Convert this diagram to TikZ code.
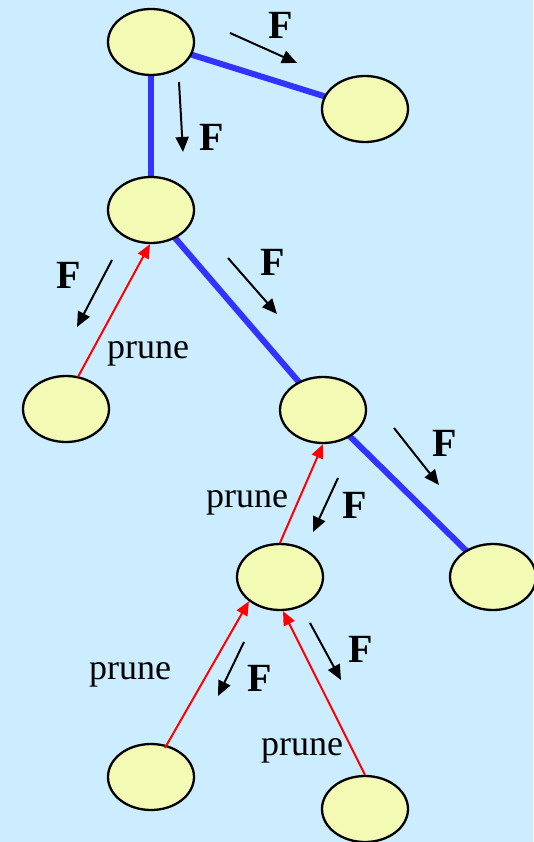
\documentclass[tikz,border=0pt]{standalone}
\usepackage{fontspec}
\setmainfont{Liberation Serif}
\usetikzlibrary{shapes.geometric,arrows.meta}
\definecolor{bgblue}{RGB}{204,236,255}
\definecolor{nodefill}{RGB}{242,250,180}
\definecolor{edgeblue}{RGB}{51,51,255}
\tikzset{
  tnode/.style={ellipse,draw=black,line width=2.3pt,fill=nodefill,minimum width=86pt,minimum height=66pt,inner sep=0pt},
  treeedge/.style={draw=edgeblue,line width=6pt},
  prunearrow/.style={draw=red,line width=2pt,-{Triangle[length=14pt,width=12pt]}},
  farrow/.style={draw=black,line width=2pt,-{Triangle[length=15pt,width=13pt]}},
  flabel/.style={font=\fontsize{40}{40}\selectfont\bfseries,inner sep=0pt},
  plabel/.style={font=\fontsize{36}{36}\selectfont,inner sep=0pt,anchor=base}
}
\begin{document}
\begin{tikzpicture}[x=1pt,y=-1pt]
\fill[bgblue] (0,0) rectangle (533,842);
\useasboundingbox (0,0) rectangle (533,842);
% tree edges
\coordinate (pA) at (151,42);
\coordinate (pB) at (365,109);
\coordinate (pC) at (151,210);
\coordinate (pE) at (323,410);
\coordinate (pG) at (493,577);
\draw[treeedge] (pA) -- (pB);
\draw[treeedge] (pA) -- (pC);
\draw[treeedge] (pC) -- (pE);
\draw[treeedge] (pE) -- (pG);
% nodes
\node[tnode] (A) at (pA) {};
\node[tnode] (B) at (pB) {};
\node[tnode] (C) at (pC) {};
\node[tnode] (D) at (66,409) {};
\node[tnode] (E) at (pE) {};
\node[tnode] (F) at (280,577) {};
\node[tnode] (G) at (pG) {};
\node[tnode] (H) at (151,777) {};
\node[tnode] (I) at (365,809) {};
% prune arrows
\draw[prunearrow] ([xshift=12pt,yshift=-2pt]D.north) -- ([xshift=-1pt]C.south);
\draw[prunearrow] (F.north) -- (E.south);
\draw[prunearrow] ([xshift=14pt,yshift=-5pt]H.north) -- (F.-142);
\draw[prunearrow] (I.north) -- ([xshift=3pt]F.south);
% F arrows
\coordinate (f1s) at (230,33);  \coordinate (f1e) at (297,63);
\coordinate (f2s) at (179,82);  \coordinate (f2e) at (183,152);
\coordinate (f3s) at (112,260); \coordinate (f3e) at (77,327);
\coordinate (f4s) at (228,258); \coordinate (f4e) at (277,314);
\coordinate (f5s) at (394,428); \coordinate (f5e) at (439,485);
\coordinate (f6s) at (338,478); \coordinate (f6e) at (313,532);
\coordinate (f7s) at (244,642); \coordinate (f7e) at (218,696);
\coordinate (f8s) at (310,623); \coordinate (f8e) at (341,680);
\draw[farrow] (f1s) -- (f1e);
\draw[farrow] (f2s) -- (f2e);
\draw[farrow] (f3s) -- (f3e);
\draw[farrow] (f4s) -- (f4e);
\draw[farrow] (f5s) -- (f5e);
\draw[farrow] (f6s) -- (f6e);
\draw[farrow] (f7s) -- (f7e);
\draw[farrow] (f8s) -- (f8e);
% F labels
\node[flabel] (F1) at (281,25) {F};
\node[flabel] (F2) at (212,137) {F};
\node[flabel] (F3) at (69,275) {F};
\node[flabel] (F4) at (273,262) {F};
\node[flabel] (F5) at (445,443) {F};
\node[flabel] (F6) at (355,505) {F};
\node[flabel] (F7) at (260,678) {F};
\node[flabel] (F8) at (361,649) {F};
% prune labels
\node[plabel] (P1) at (148,358) {prune};
\node[plabel] (P2) at (247,507) {prune};
\node[plabel] (P3) at (130,679) {prune};
\node[plabel] (P4) at (302,755) {prune};
\end{tikzpicture}
\end{document}
